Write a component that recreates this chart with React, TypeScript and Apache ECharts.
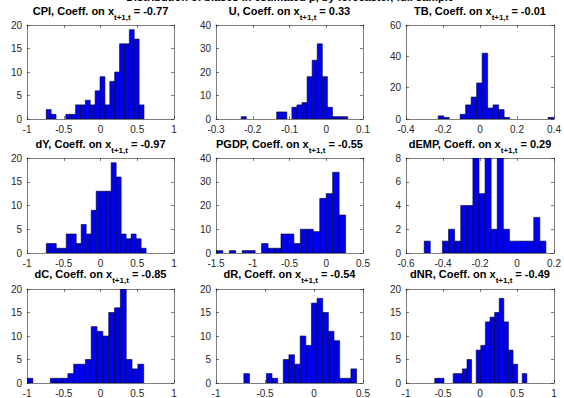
import React, { useEffect, useRef } from "react";
import * as echarts from "echarts";

// ---- histogram data (bin counts, first bin edge, bin width) ----
const cpiCounts = [2, 1, 0, 0, 1, 1, 3, 3, 4, 3, 6, 9, 3, 8, 10, 16, 16, 19, 17, 3];
const cpiBins = [-0.738, 0.0665];
const uCounts = [1, 0, 0, 0, 0, 0, 0, 3, 3, 0, 5, 6, 7, 18, 25, 32, 18, 5, 1, 1, 1];
const uBins = [-0.2315, 0.0138];
const tbCounts = [2, 1, 0, 0, 3, 9, 14, 23, 42, 7, 9, 6, 1, 0, 0, 0, 0, 0, 0, 0, 1];
const tbBins = [-0.226, 0.0297];
const dyCounts = [2, 2, 1, 1, 4, 4, 2, 6, 4, 9, 13, 13, 13, 19, 16, 4, 3, 4, 3, 1];
const dyBins = [-0.7376, 0.0679];
const pgdpCounts = [1, 0, 1, 0, 1, 1, 0, 4, 2, 2, 8, 8, 4, 10, 10, 9, 23, 25, 34, 16];
const pgdpBins = [-1.495, 0.0879];
const dempCounts = [1, 0, 0, 1, 2, 1, 4, 4, 9, 5, 9, 2, 9, 2, 1, 1, 1, 1, 3, 1];
const dempBins = [-0.5016, 0.0329];
const dcCounts = [1, 0, 0, 0, 1, 1, 1, 2, 4, 4, 5, 12, 11, 10, 15, 16, 20, 5, 3, 4];
const dcBins = [-1.0, 0.0794];
const drCounts = [2, 0, 0, 0, 2, 1, 0, 5, 6, 4, 10, 8, 17, 18, 15, 11, 9, 1, 1, 3];
const drBins = [-0.716, 0.0575];
const dnrCounts = [1, 1, 0, 0, 2, 2, 3, 5, 0, 7, 8, 13, 14, 15, 18, 13, 7, 4, 0, 2];
const dnrBins = [-0.611, 0.0622];

const names = ["CPI", "U", "TB", "dY", "PGDP", "dEMP", "dC", "dR", "dNR"];
const coefs = ["-0.77", "0.33", "-0.01", "-0.97", "-0.55", "0.29", "-0.85", "-0.54", "-0.49"];
const xRanges = [
  [-1, 1, 0.5], [-0.3, 0.1, 0.1], [-0.4, 0.4, 0.2],
  [-1, 1, 0.5], [-1.5, 0.5, 0.5], [-0.6, 0.2, 0.2],
  [-1, 1, 0.5], [-1, 0.5, 0.5], [-1, 1, 0.5],
];
const yRanges = [
  [20, 5], [40, 10], [60, 20],
  [20, 5], [40, 10], [8, 2],
  [20, 5], [20, 5], [20, 5],
];
const allCounts = [cpiCounts, uCounts, tbCounts, dyCounts, pgdpCounts, dempCounts, dcCounts, drCounts, dnrCounts];
const allBins = [cpiBins, uBins, tbBins, dyBins, pgdpBins, dempBins, dcBins, drBins, dnrBins];
const suptitle = "Distribution of biases in estimated ρ, by forecaster, full sample";

// layout
const colLeft = [27, 216, 406];
const colWidth = [147, 147, 148];
const rowTop = [25, 158, 289];
const rowHeight = [94, 95, 95];
const titleY = [5, 138, 268];

const AX = "#262626";
const FONT = "Arial, 'Liberation Sans', Helvetica, sans-serif";

export default function App() {
  const ref = useRef<HTMLDivElement>(null);
  useEffect(() => {
    const chart = echarts.init(ref.current!, null, { renderer: "svg" });
    const grid: any[] = [];
    const xAxis: any[] = [];
    const yAxis: any[] = [];
    const series: any[] = [];
    const graphic: any[] = [];

    graphic.push({
      type: "text",
      x: 290,
      y: -9,
      style: { text: suptitle, font: `bold 11px ${FONT}`, fill: "#000", align: "center", verticalAlign: "top" },
    });

    for (let i = 0; i < 9; i++) {
      const r = Math.floor(i / 3);
      const c = i % 3;
      grid.push({ left: colLeft[c], top: rowTop[r], width: colWidth[c], height: rowHeight[r] });
      const [xmin, xmax, xint] = xRanges[i];
      const [ymax, yint] = yRanges[i];
      const common = { gridIndex: i, type: "value" };
      const lineStyle = { color: AX, width: 0.6 };
      xAxis.push({
        ...common, min: xmin, max: xmax, interval: xint, position: "bottom",
        axisLine: { show: true, onZero: false, lineStyle },
        axisTick: { show: true, inside: true, length: 3, lineStyle },
        axisLabel: { color: AX, fontSize: 10, fontFamily: FONT, margin: 5 },
        splitLine: { show: false },
      });
      xAxis.push({
        ...common, min: xmin, max: xmax, interval: xint, position: "top",
        axisLine: { show: true, onZero: false, lineStyle },
        axisTick: { show: true, inside: true, length: 3, lineStyle },
        axisLabel: { show: false },
        splitLine: { show: false },
      });
      yAxis.push({
        ...common, min: 0, max: ymax, interval: yint, position: "left",
        axisLine: { show: true, onZero: false, lineStyle },
        axisTick: { show: true, inside: true, length: 3, lineStyle },
        axisLabel: { color: AX, fontSize: 10, fontFamily: FONT, margin: 5 },
        splitLine: { show: false },
      });
      yAxis.push({
        ...common, min: 0, max: ymax, interval: yint, position: "right",
        axisLine: { show: true, onZero: false, lineStyle },
        axisTick: { show: true, inside: true, length: 3, lineStyle },
        axisLabel: { show: false },
        splitLine: { show: false },
      });
      const [start, w] = allBins[i];
      const data = allCounts[i].map((cnt, k) => [start + k * w, start + (k + 1) * w, cnt]);
      series.push({
        type: "custom",
        xAxisIndex: 2 * i,
        yAxisIndex: 2 * i,
        clip: true,
        data,
        renderItem: (params: any, api: any) => {
          const v = api.value(2);
          if (!v) return null;
          const p0 = api.coord([api.value(0), Math.min(v, ymax)]);
          const p1 = api.coord([api.value(1), 0]);
          return {
            type: "rect",
            shape: { x: p0[0], y: p0[1], width: p1[0] - p0[0], height: p1[1] - p0[1] },
            style: { fill: "#0000f0", stroke: "#000022", lineWidth: 0.6 },
          };
        },
      });
      graphic.push({
        type: "text",
        x: colLeft[c] + colWidth[c] / 2,
        y: titleY[r],
        style: {
          text: `{b|${names[i]}, Coeff. on x}{s|t+1,t}{b| = ${coefs[i]}}`,
          align: "center",
          verticalAlign: "top",
          rich: {
            b: { font: `bold 11px ${FONT}`, fill: "#000", lineHeight: 13, verticalAlign: "top" },
            s: { font: `bold 8px ${FONT}`, fill: "#000", lineHeight: 8, padding: [8, 0, 0, 0], verticalAlign: "top" },
          },
        },
      });
    }

    chart.setOption({
      animation: false,
      backgroundColor: "#ffffff",
      grid,
      xAxis,
      yAxis,
      series,
      graphic,
    });
    return () => chart.dispose();
  }, []);
  return (
    <div
      ref={ref}
      style={{ position: "fixed", left: 0, top: 0, width: 564, height: 398, background: "#fff" }}
    />
  );
}
